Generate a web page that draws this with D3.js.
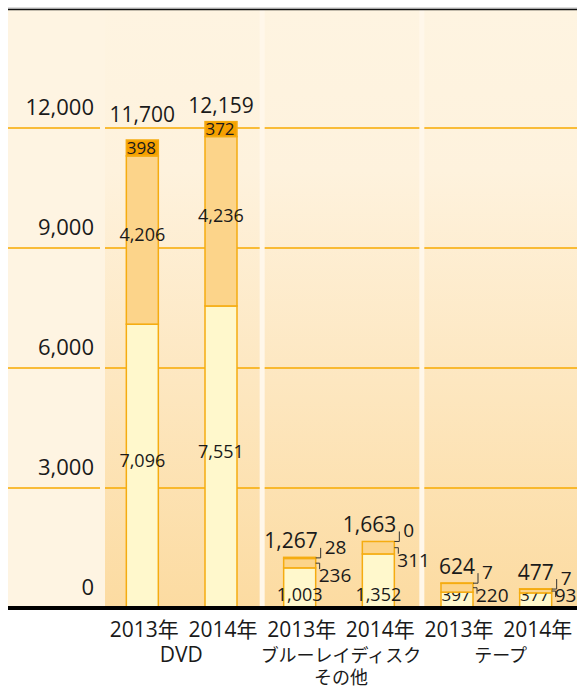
<!DOCTYPE html>
<html>
<head>
<meta charset="utf-8">
<script src="https://cdn.jsdelivr.net/npm/d3@7/dist/d3.min.js"></script>
<style>
  body { margin: 0; background: #fff; }
  text { font-family: "Open Sans", "Noto Sans CJK JP", sans-serif; fill: #1a1a1a; }
</style>
</head>
<body>
<svg id="chart" width="577" height="689"></svg>
<script>
// data
var groups = ["DVD", "ブルーレイディスク\nその他", "テープ"];
var years = ["2013年", "2014年"];
var lower = [7096, 7551, 1003, 1352, 397, 377];
var middle = [4206, 4236, 236, 311, 220, 93];
var upper = [398, 372, 28, 0, 7, 7];
var totals = [11700, 12159, 1267, 1663, 624, 477];
var yTicks = [0, 3000, 6000, 9000, 12000];

var svg = d3.select("#chart");
var fills = ["#fff8cc", "#fcd48a", "#f6a000"];
var gridColor = "#f7aa00";
var barStroke = "#f5ac10";

// note: "top" is taken by window.top, so plotTop
var left = 8, right = 577, plotTop = 10, base = 608;

var y = d3.scaleLinear().domain([0, 15000]).range([base, base - 600]);
var x = d3.scaleBand().domain(d3.range(totals.length)).range([103, 575]);
var px = d3.scaleBand().domain(d3.range(groups.length)).range([102.5, 581.5]);
var barW = 32;

// gradient for the panels
var grad = svg.append("defs").append("linearGradient")
  .attr("id", "panelGrad")
  .attr("gradientUnits", "userSpaceOnUse")
  .attr("x1", 0).attr("y1", plotTop).attr("x2", 0).attr("y2", base);
grad.append("stop").attr("offset", "0%").attr("stop-color", "#fef4e1");
grad.append("stop").attr("offset", "27%").attr("stop-color", "#fef2dd");
grad.append("stop").attr("offset", "100%").attr("stop-color", "#fcdba1");

// background
svg.append("rect").attr("x", left).attr("y", plotTop)
  .attr("width", right - left).attr("height", base - plotTop).attr("fill", "#fff7ea");
svg.append("rect").attr("x", left).attr("y", plotTop)
  .attr("width", px(0) + 2.5 - left).attr("height", base - plotTop).attr("fill", "#fef4e2");

svg.selectAll(".panel").data(d3.range(groups.length)).enter().append("rect")
  .attr("class", "panel")
  .attr("x", function (g) { return px(g) + 2.5; })
  .attr("y", plotTop)
  .attr("width", px.bandwidth() - 5)
  .attr("height", base - plotTop)
  .attr("fill", "url(#panelGrad)");

// gridlines, broken at the panel gaps
var segs = [[left, 100]].concat(d3.range(groups.length).map(function (g) {
  return [px(g) + 2.5, Math.min(right, px(g) + px.bandwidth() - 2.5)];
}));
yTicks.forEach(function (t) {
  segs.forEach(function (s) {
    svg.append("line")
      .attr("x1", s[0]).attr("x2", s[1])
      .attr("y1", y(t)).attr("y2", y(t))
      .attr("stroke", gridColor).attr("stroke-width", 1.5);
  });
});

// y tick labels
svg.selectAll(".ytick").data(yTicks).enter().append("text")
  .attr("class", "ytick")
  .attr("x", 94)
  .attr("y", function (d) { return y(d) - 13; })
  .attr("text-anchor", "end")
  .style("font-size", "22px")
  .text(d3.format(","));

// top rule
svg.append("line").attr("x1", left).attr("x2", right).attr("y1", 8).attr("y2", 8)
  .attr("stroke", "#bbb").attr("stroke-width", 1);
svg.append("line").attr("x1", left).attr("x2", right).attr("y1", 9.5).attr("y2", 9.5)
  .attr("stroke", "#111").attr("stroke-width", 1.5);

// stacked bars
var series = [lower, middle, upper];
var fmt = d3.format(",");

totals.forEach(function (tot, i) {
  var bx = x(i) + (x.bandwidth() - barW) / 2;
  var bRight = bx + barW;
  var cx = bx + barW / 2;
  var acc = 0;
  var hasTopCallout = false;

  series.forEach(function (s, k) {
    var v = s[i];
    var y0 = y(acc), y1 = y(acc + v);
    acc += v;
    svg.append("rect")
      .attr("x", bx).attr("y", y1)
      .attr("width", barW).attr("height", y0 - y1)
      .attr("fill", fills[k])
      .attr("stroke", barStroke).attr("stroke-width", 1.5);

    var h = y0 - y1, mid = (y0 + y1) / 2;
    if (h >= 14) {
      var by;
      if (k === 0 && h < 80) by = base - 7;
      else by = mid + (h < 30 ? 6 : 1);
      svg.append("text")
        .attr("x", cx - (h < 20 ? 1 : 0)).attr("y", by)
        .attr("text-anchor", "middle")
        .style("font-size", h < 20 ? "17px" : "18px")
        .text(fmt(v));
    } else if (k === 2) {
      // callout going up
      hasTopCallout = true;
      svg.append("path")
        .attr("d", "M" + bRight + "," + mid + "H" + (bRight + 5) + "V" + (mid - 10))
        .attr("fill", "none").attr("stroke", "#333").attr("stroke-width", 1);
      svg.append("text")
        .attr("x", bRight + 9).attr("y", mid - 4)
        .style("font-size", "19px")
        .text(fmt(v));
    } else {
      // callout going down
      svg.append("path")
        .attr("d", "M" + bRight + "," + mid + "H" + (bRight + 4) + "V" + (mid + 6))
        .attr("fill", "none").attr("stroke", "#333").attr("stroke-width", 1);
      svg.append("text")
        .attr("x", bRight + 3).attr("y", Math.min(mid + 19, base - 6))
        .style("font-size", "19px")
        .text(fmt(v));
    }
  });

  // total label, lifted above a gridline it would cross
  var ty = y(tot) - 9;
  yTicks.forEach(function (t) {
    if (y(t) <= ty + 1 && y(t) >= ty - 16) ty = y(t) - 6;
  });
  svg.append("text")
    .attr("x", hasTopCallout ? bRight + 2 : cx)
    .attr("y", ty)
    .attr("text-anchor", hasTopCallout ? "end" : "middle")
    .style("font-size", "21px")
    .text(fmt(tot));

  // year label
  svg.append("text")
    .attr("x", cx + 2).attr("y", 637)
    .attr("text-anchor", "middle")
    .style("font-size", "21px")
    .text(years[i % 2]);
});

// baseline
svg.append("line").attr("x1", left).attr("x2", right).attr("y1", base).attr("y2", base)
  .attr("stroke", "#000").attr("stroke-width", 4);

// group labels
groups.forEach(function (g, gi) {
  var lines = g.split("\n");
  lines.forEach(function (ln, li) {
    svg.append("text")
      .attr("x", px(gi) + px.bandwidth() / 2 - 1)
      .attr("y", 662 + li * 22)
      .attr("text-anchor", "middle")
      .style("font-size", /[A-Z]/.test(ln) ? "21px" : "18px")
      .text(ln);
  });
});
</script>
</body>
</html>
